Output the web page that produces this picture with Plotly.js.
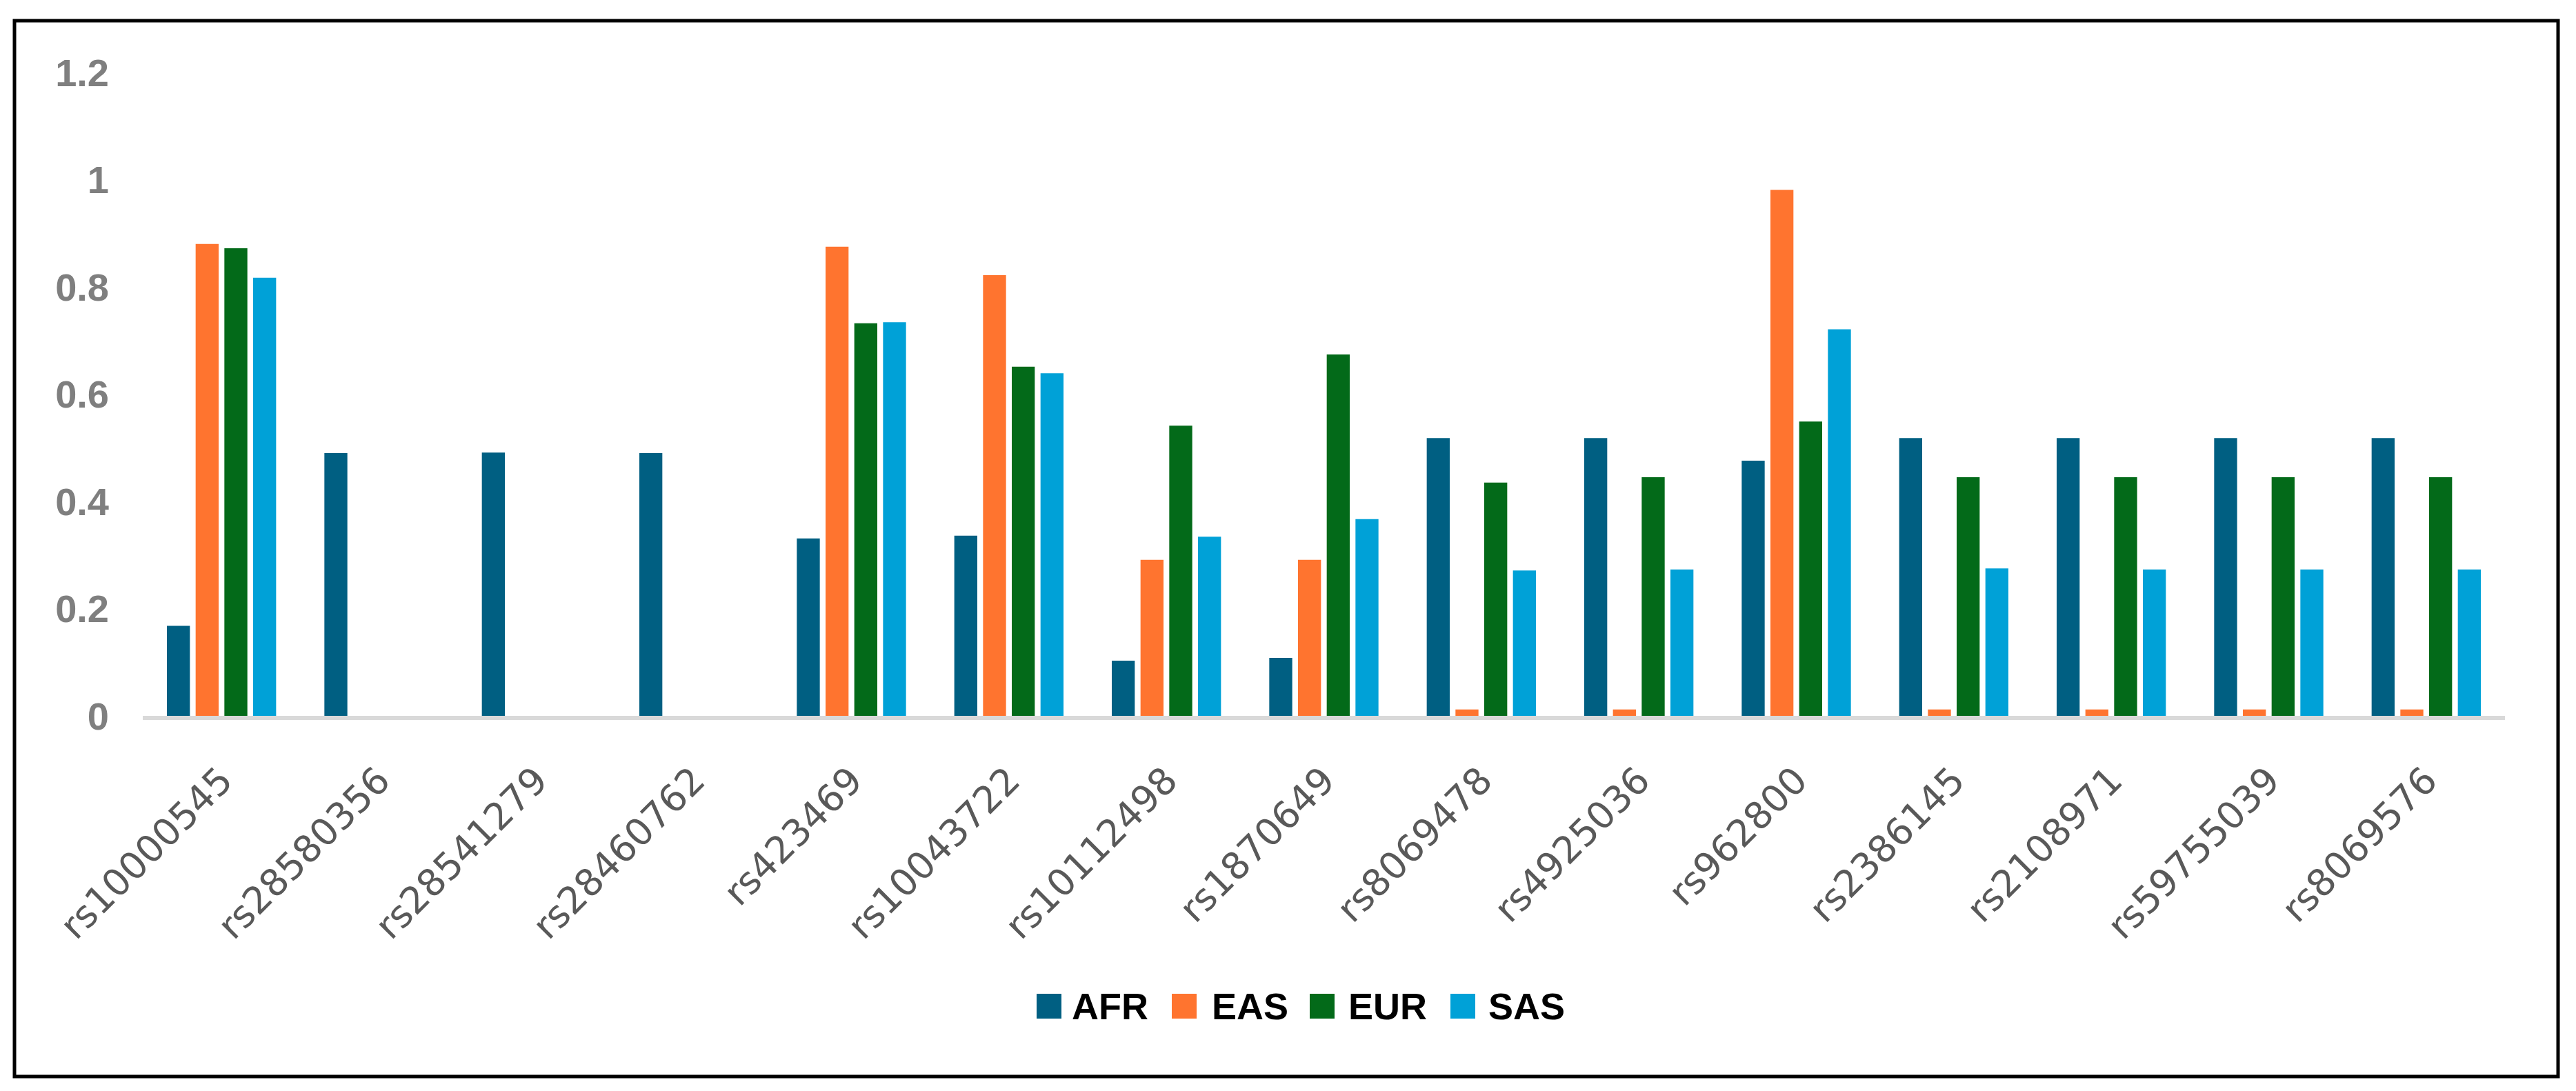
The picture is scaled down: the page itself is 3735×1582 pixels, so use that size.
<!DOCTYPE html>
<html>
<head>
<meta charset="utf-8">
<script src="https://cdn.plot.ly/plotly-3.0.1.min.js"></script>
<style>
  html, body { margin: 0; padding: 0; background: #ffffff; }
  #chart { width: 3735px; height: 1582px; }
</style>
</head>
<body>
<div id="chart"></div>
<script>
// ---- Data ----
const snps = ["rs10000545","rs28580356","rs28541279","rs28460762","rs423469","rs10043722","rs10112498","rs1870649","rs8069478","rs4925036","rs962800","rs2386145","rs2108971","rs59755039","rs8069576"];
const seriesNames = ["AFR","EAS","EUR","SAS"];
const AFR = [0.168,0.490,0.491,0.490,0.331,0.336,0.103,0.108,0.518,0.518,0.476,0.518,0.518,0.518,0.518];
const EAS = [0.880,0,0,0,0.875,0.822,0.291,0.291,0.012,0.012,0.981,0.012,0.012,0.012,0.012];
const EUR = [0.872,0,0,0,0.732,0.651,0.541,0.674,0.435,0.445,0.549,0.445,0.445,0.445,0.445];
const SAS = [0.817,0,0,0,0.734,0.639,0.334,0.367,0.271,0.273,0.721,0.275,0.273,0.273,0.273];
const yTicks = [0,0.2,0.4,0.6,0.8,1,1.2];
const colors = ["#005F82","#FF742F","#036A19","#00A1D7"];

const seriesValues = [AFR, EAS, EUR, SAS];

// ---- Layout geometry (pixels) ----
const W = 3735, H = 1582;
const plotL = 207, plotR = 3632, plotT = 105, plotB = 1038;
const pw = plotR - plotL, ph = plotB - plotT;
const px = x => (x - plotL) / pw;
const py = y => (plotB - y) / ph;

const traces = seriesNames.map((name, i) => ({
  type: "bar",
  name: name,
  x: snps,
  y: seriesValues[i],
  marker: { color: colors[i], line: { width: 0 } },
  hoverinfo: "x+y+name"
}));

// custom legend
const legSwatchX = [1503, 1699, 1899, 2103];
const legTextX = [1552, 1755, 1953, 2156];
const legCY = 1459, sw = 36;
const shapes = [
  { type: "rect", xref: "paper", yref: "paper",
    x0: px(21), x1: px(3709), y0: py(1561), y1: py(30),
    line: { color: "#000000", width: 5 }, fillcolor: "rgba(0,0,0,0)", layer: "above" }
];
const annotations = [];
seriesNames.forEach((name, i) => {
  shapes.push({ type: "rect", xref: "paper", yref: "paper",
    x0: px(legSwatchX[i]), x1: px(legSwatchX[i] + sw),
    y0: py(legCY + sw / 2), y1: py(legCY - sw / 2),
    line: { width: 0 }, fillcolor: colors[i] });
  annotations.push({ xref: "paper", yref: "paper",
    x: px(legTextX[i]), y: py(legCY), xanchor: "left", yanchor: "middle",
    text: name, showarrow: false,
    font: { family: "Liberation Sans, Arial, sans-serif", size: 54, color: "#000000", weight: "bold" } });
});

const layout = {
  width: W, height: H,
  margin: { l: plotL, r: W - plotR, t: plotT, b: H - plotB, pad: 0 },
  paper_bgcolor: "#ffffff",
  plot_bgcolor: "#ffffff",
  barmode: "group",
  bargap: 0.27,
  bargroupgap: 0.2,
  showlegend: false,
  xaxis: {
    type: "category",
    tickangle: -45,
    ticks: "",
    showgrid: false,
    zeroline: false,
    showline: true,
    linecolor: "#d9d9d9",
    linewidth: 6,
    tickfont: { family: "DejaVu Sans, sans-serif", size: 54, color: "#595959" },
    ticklabelstandoff: 34
  },
  yaxis: {
    range: [0, 1.2],
    tickvals: yTicks,
    ticktext: yTicks.map(v => String(v)),
    ticks: "",
    showgrid: false,
    zeroline: false,
    showline: false,
    tickfont: { family: "Liberation Sans, Arial, sans-serif", size: 56, color: "#7F7F7F", weight: "bold" },
    ticklabelstandoff: 48
  },
  shapes: shapes,
  annotations: annotations
};

Plotly.newPlot("chart", traces, layout, { displayModeBar: false, staticPlot: true });
</script>
</body>
</html>
